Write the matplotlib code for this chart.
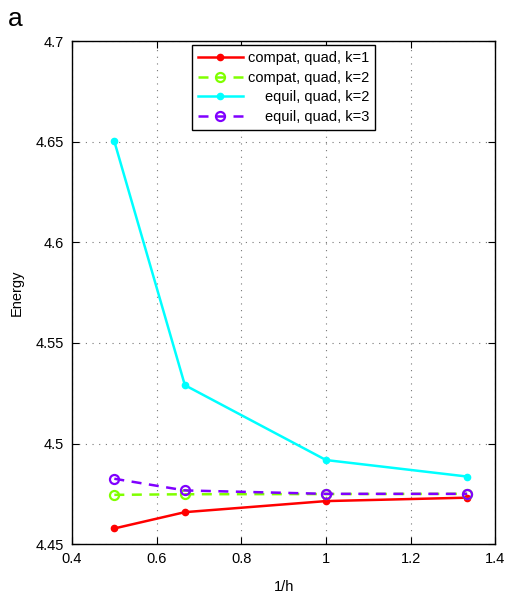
import numpy as np
import matplotlib
matplotlib.use("Agg")
import matplotlib.pyplot as plt

plt.rcParams['font.family'] = ['Liberation Sans', 'DejaVu Sans']

# data
inv_h = [0.5, 2/3, 1.0, 4/3]
compat_k1 = [4.4578, 4.4659, 4.4714, 4.4731]
compat_k2 = [4.4745, 4.4748, 4.4749, 4.4750]
equil_k2 = [4.6502, 4.5290, 4.4918, 4.4836]
equil_k3 = [4.4825, 4.4767, 4.4750, 4.4750]

labels = ['compat, quad, k=1', 'compat, quad, k=2',
          'equil, quad, k=2', 'equil, quad, k=3']

fig = plt.figure(figsize=(5.07, 5.96), dpi=100)
ax = fig.add_axes([0.142, 0.087, 0.835, 0.844])

ax.plot(inv_h, compat_k1, '-', color='#ff0000', lw=1.8, marker='o',
        ms=4.5, label=labels[0])
ax.plot(inv_h, compat_k2, '--', color='#80ff00', lw=1.8, marker='o',
        ms=6.5, mfc='none', mew=1.6, dashes=(4, 3), label=labels[1])
ax.plot(inv_h, equil_k2, '-', color='#00ffff', lw=1.8, marker='o',
        ms=4.5, label=labels[2])
ax.plot(inv_h, equil_k3, '--', color='#8000ff', lw=1.8, marker='o',
        ms=6.5, mfc='none', mew=1.6, dashes=(4, 3), label=labels[3])

ax.set_xlim(0.4, 1.4)
ax.set_ylim(4.45, 4.7)
ax.set_xticks(np.arange(0.4, 1.41, 0.2))
ax.set_yticks(np.arange(4.45, 4.701, 0.05))
ax.set_xticklabels(['0.4', '0.6', '0.8', '1', '1.2', '1.4'])
ax.set_yticklabels(['4.45', '4.5', '4.55', '4.6', '4.65', '4.7'])
ax.tick_params(direction='in', top=True, right=True, labelsize=10.5,
               length=5, pad=6)
ax.grid(True, color='#777777', linestyle=(0, (1, 5)), linewidth=0.8)
for s in ax.spines.values():
    s.set_linewidth(1.0)

ax.set_xlabel('1/h', fontsize=10.5, labelpad=10)
ax.set_ylabel('Energy', fontsize=10.5, labelpad=8)
fig.text(0.015, 0.968, 'a', fontsize=19, va='center')

leg = ax.legend(loc='upper center', fontsize=10.5, fancybox=False,
                edgecolor='black', framealpha=1, handlelength=3.1,
                handletextpad=0.35, labelspacing=0.38, borderpad=0.4,
                borderaxespad=0.3)
leg.get_frame().set_linewidth(1.0)

# right-align legend labels like the original
fig.canvas.draw()
r = fig.canvas.get_renderer()
widths = [t.get_window_extent(r).width for t in leg.get_texts()]
maxw = max(widths)
for t, w in zip(leg.get_texts(), widths):
    t.set_x(maxw - w)

fig.savefig('out.png', dpi=100)
